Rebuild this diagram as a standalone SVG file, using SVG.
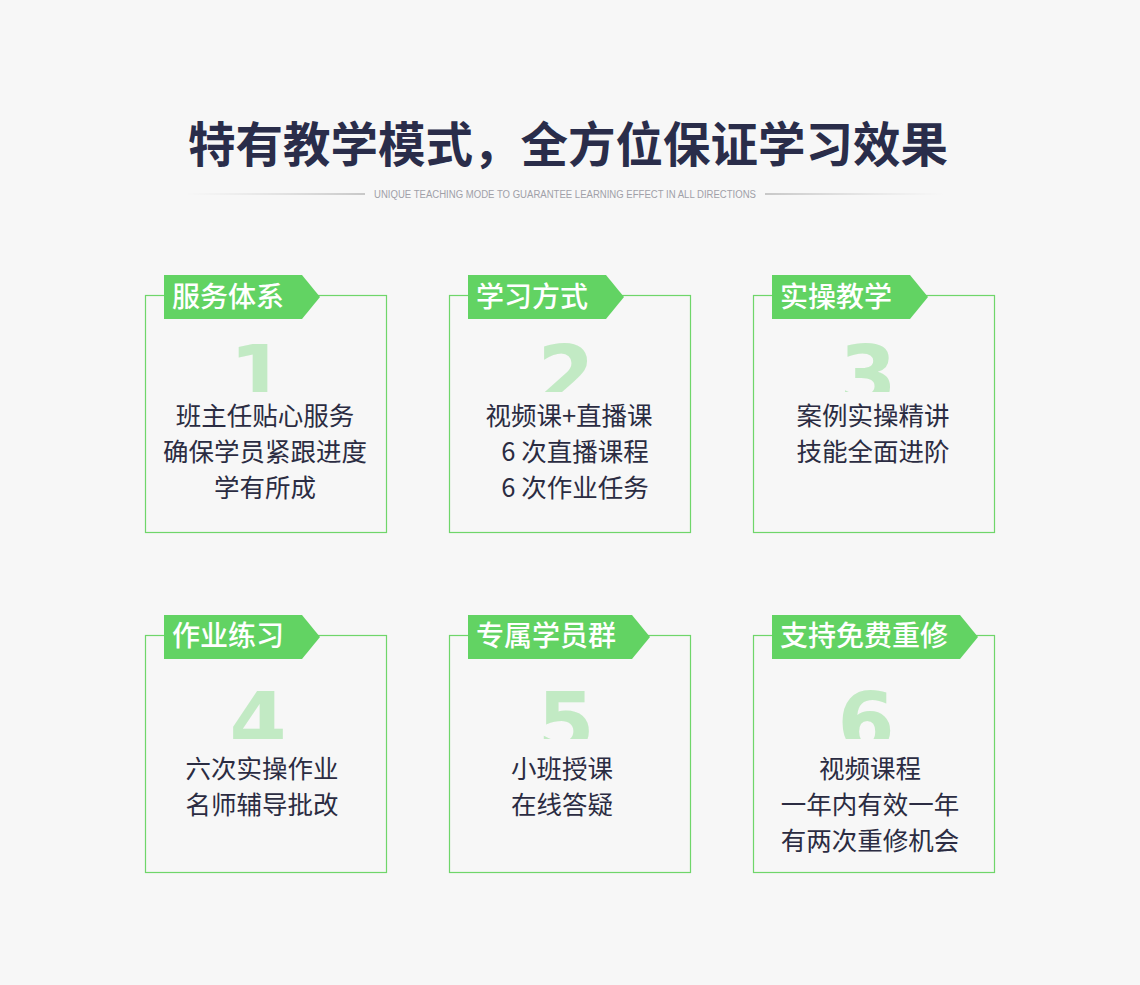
<svg xmlns="http://www.w3.org/2000/svg" width="1140" height="985" viewBox="0 0 1140 985">
<style>
.box{fill:none;stroke:#6fd66a;stroke-width:1.2}
.tab{fill:#62d363}
.tt{font-family:"Noto Sans CJK SC",sans-serif;font-size:28px;fill:#fff;font-weight:500}
.num{font-family:"DejaVu Sans",sans-serif;font-size:82px;font-weight:bold;fill:#c2eac4;text-anchor:middle}
.tx{font-family:"Noto Sans CJK SC",sans-serif;font-size:25.5px;fill:#2b2c42;text-anchor:middle}
</style>
<defs>
<linearGradient id="gl" x1="0" x2="1"><stop offset="0" stop-color="#bbb" stop-opacity="0"/><stop offset="1" stop-color="#999"/></linearGradient>
<linearGradient id="gr" x1="0" x2="1"><stop offset="0" stop-color="#999"/><stop offset="1" stop-color="#bbb" stop-opacity="0"/></linearGradient>
<clipPath id="c1"><rect x="0" y="300" width="1140" height="92"/></clipPath>
<clipPath id="c2"><rect x="0" y="640" width="1140" height="99"/></clipPath>
</defs>
<rect width="1140" height="985" fill="#f7f7f7"/>
<text x="568" y="162" text-anchor="middle" font-family="Noto Sans CJK SC,sans-serif" font-size="47.5" font-weight="bold" fill="#2a2d4a">特有教学模式，全方位保证学习效果</text>
<rect x="185" y="193.5" width="180" height="1" fill="url(#gl)"/>
<rect x="765" y="193.5" width="180" height="1" fill="url(#gr)"/>
<text x="565" y="198" text-anchor="middle" font-family="Liberation Sans Narrow,Liberation Sans,sans-serif" font-size="10" fill="#a0a0a8" textLength="382" lengthAdjust="spacingAndGlyphs">UNIQUE TEACHING MODE TO GUARANTEE LEARNING EFFECT IN ALL DIRECTIONS</text>
<g id="n1"><rect class="box" x="145.5" y="295.5" width="241" height="237"/><path class="tab" d="M164 275H302L320 297L302 319H164Z"/><text class="tt" x="172" y="307">服务体系</text><text class="num" x="258" y="404" clip-path="url(#c1)">1</text><text class="tx" x="265" y="425">班主任贴心服务</text><text class="tx" x="265" y="461">确保学员紧跟进度</text><text class="tx" x="265" y="497">学有所成</text></g>
<g id="n2"><rect class="box" x="449.5" y="295.5" width="241" height="237"/><path class="tab" d="M468 275H606L624 297L606 319H468Z"/><text class="tt" x="476" y="307">学习方式</text><text class="num" x="566" y="404" clip-path="url(#c1)">2</text><text class="tx" x="569" y="425">视频课+直播课</text><text class="tx" x="575" y="461">6 次直播课程</text><text class="tx" x="575" y="497">6 次作业任务</text></g>
<g id="n3"><rect class="box" x="753.5" y="295.5" width="241" height="237"/><path class="tab" d="M772 275H910L928 297L910 319H772Z"/><text class="tt" x="780" y="307">实操教学</text><text class="num" x="868" y="404" clip-path="url(#c1)">3</text><text class="tx" x="873" y="425">案例实操精讲</text><text class="tx" x="873" y="461">技能全面进阶</text></g>
<g id="n4"><rect class="box" x="145.5" y="635.5" width="241" height="237"/><path class="tab" d="M164 615H302L320 637L302 659H164Z"/><text class="tt" x="172" y="646">作业练习</text><text class="num" x="258" y="751" clip-path="url(#c2)">4</text><text class="tx" x="262" y="778">六次实操作业</text><text class="tx" x="262" y="814">名师辅导批改</text></g>
<g id="n5"><rect class="box" x="449.5" y="635.5" width="241" height="237"/><path class="tab" d="M468 615H632L650 637L632 659H468Z"/><text class="tt" x="476" y="646">专属学员群</text><text class="num" x="566" y="751" clip-path="url(#c2)">5</text><text class="tx" x="562" y="778">小班授课</text><text class="tx" x="562" y="814">在线答疑</text></g>
<g id="n6"><rect class="box" x="753.5" y="635.5" width="241" height="237"/><path class="tab" d="M772 615H960L978 637L960 659H772Z"/><text class="tt" x="780" y="646">支持免费重修</text><text class="num" x="866" y="751" clip-path="url(#c2)">6</text><text class="tx" x="870" y="778">视频课程</text><text class="tx" x="870" y="814">一年内有效一年</text><text class="tx" x="870" y="850">有两次重修机会</text></g>
<g id="connectors"/>
</svg>
